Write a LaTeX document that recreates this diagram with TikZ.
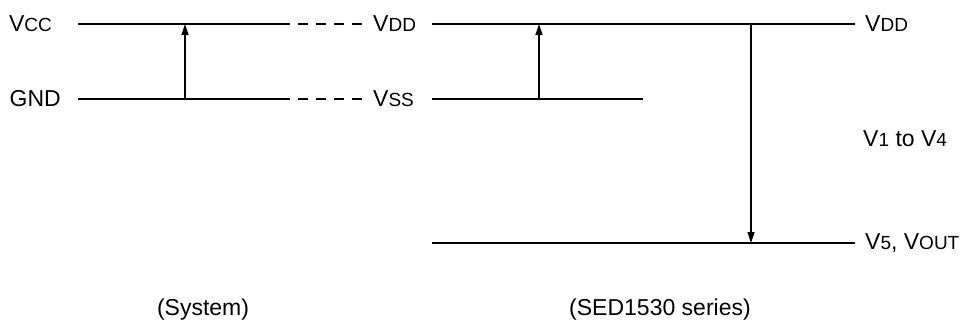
\documentclass[tikz,border=0pt]{standalone}
\usepackage{fontspec}
\setmainfont{Liberation Sans}
\usetikzlibrary{arrows.meta,positioning}
\newcommand{\lo}[1]{{\fontsize{19}{21}\selectfont #1}}
\tikzset{%
  >={Triangle[width=7pt,length=11pt]},
  % Specifications for style of nodes:
      rail/.style = {line width=1.3pt},
    linked/.style = {rail, dash pattern=on 10pt off 8pt, dash phase=10pt},
     level/.style = {inner sep=0pt, font=\fontsize{23}{26}\selectfont},
   caption/.style = {level}
}
\begin{document}
\begin{tikzpicture}[x=1pt, y=-1pt]
  \useasboundingbox (0,0) rectangle (961,325);

  \coordinate (vcc1) at (78,24);
  \coordinate (vcc2) at (290,24);
  \coordinate (vcc3) at (363,24);
  \coordinate (gnd1) at (78,99);
  \coordinate (gnd2) at (290,99);
  \coordinate (gnd3) at (363,99);
  \coordinate (vdd1) at (432,24);
  \coordinate (vdd2) at (855,24);
  \coordinate (vss1) at (432,99);
  \coordinate (vss2) at (643,99);
  \coordinate (out1) at (432,243);
  \coordinate (out2) at (855,243);

  \node (vcc)  [level, left=26pt of vcc1]  {V\lo{CC}};
  \node (gnd)  [level, left=17pt of gnd1]  {GND};
  \node (vdd)  [level, right=10pt of vcc3] {V\lo{DD}};
  \node (vss)  [level, right=10pt of gnd3] {V\lo{SS}};
  \node (vddr) [level, right=10pt of vdd2] {V\lo{DD}};
  \node (vout) [level, right=10pt of out2] {V\lo{5}, V\lo{OUT}};
  \node (vmid) [level, anchor=west] at (863,139) {V\lo{1} to V\lo{4}};
  \node (sys)  [caption] at (203,310) {(System)};
  \node (sed)  [caption] at (660,310) {(SED1530 series)};

  \draw[rail]   (vcc1) -- (vcc2);
  \draw[linked] (vcc2) -- (vcc3);
  \draw[rail]   (gnd1) -- (gnd2);
  \draw[linked] (gnd2) -- (gnd3);
  \draw[rail]   (vdd1) -- (vdd2);
  \draw[rail]   (vss1) -- (vss2);
  \draw[rail]   (out1) -- (out2);

  \draw[rail,->] (gnd1 -| 185,0) -- (vcc1 -| 185,0);
  \draw[rail,->] (vss1 -| 539,0) -- (vdd1 -| 539,0);
  \draw[rail,->] (vdd1 -| 751,0) -- (out1 -| 751,0);
\end{tikzpicture}
\end{document}
